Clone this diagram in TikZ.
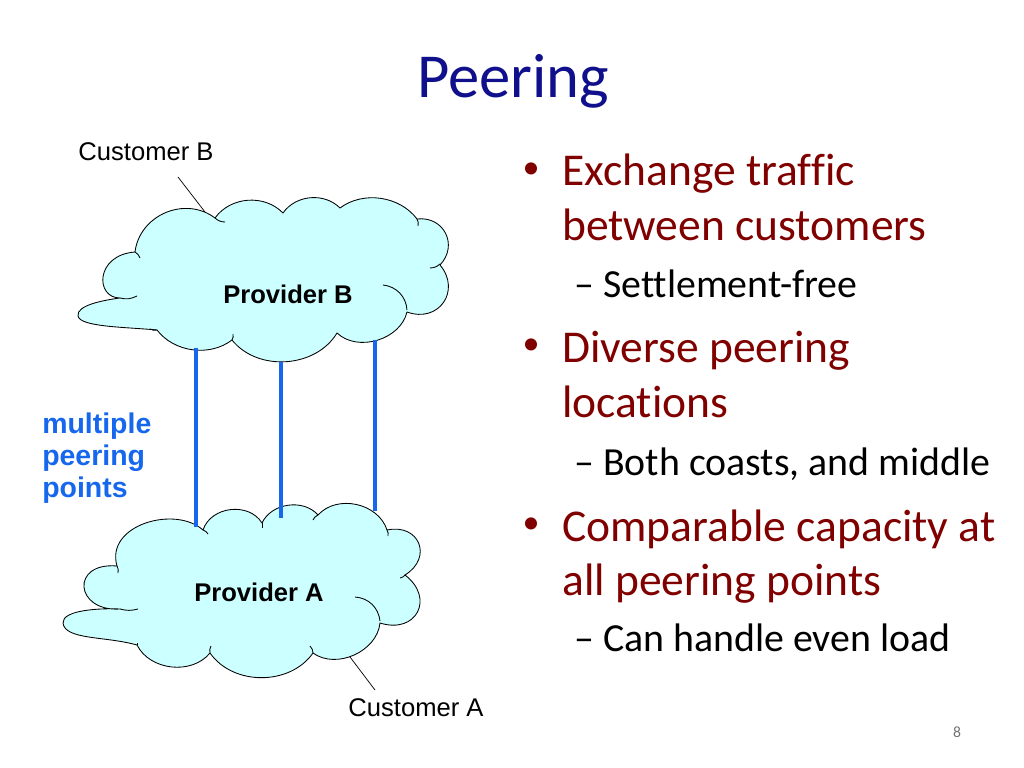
\documentclass[tikz,border=0pt]{standalone}
\usepackage{fontspec}
\setmainfont{Carlito}[Ligatures={TeX,NoCommon}]
\newfontfamily\arialf{Liberation Sans}
\definecolor{titleblue}{RGB}{16,16,140}
\definecolor{bulletred}{RGB}{128,0,0}
\definecolor{linkblue}{RGB}{22,102,238}
\definecolor{cloudfill}{RGB}{204,255,255}
\tikzset{
  cloudline/.style={draw=black, line width=0.6pt, fill=cloudfill, line join=round},
  curl/.style={draw=black, line width=0.6pt},
  peerlink/.style={draw=linkblue, line width=2.4pt},
  callout/.style={draw=black, line width=0.5pt},
  titletext/.style={anchor=base, inner sep=0pt, text=titleblue, font=\fontsize{44}{52}\selectfont},
  bul/.style={anchor=center, inner sep=0pt, text=bulletred, font=\fontsize{24}{28}\selectfont},
  maintext/.style={anchor=base west, inner sep=0pt, text=bulletred, font=\fontsize{32}{38}\selectfont},
  subtext/.style={anchor=base west, inner sep=0pt, text=black, font=\fontsize{28}{34}\selectfont},
  lbl/.style={anchor=base, inner sep=0pt, font=\arialf\fontsize{18}{21}\selectfont},
  boldlbl/.style={anchor=base, inner sep=0pt, font=\arialf\bfseries\fontsize{18}{21}\selectfont},
  bluelbl/.style={anchor=base west, inner sep=0pt, text=linkblue, font=\arialf\bfseries\fontsize{20}{24}\selectfont},
}
\begin{document}
\begin{tikzpicture}[x=0.703125pt,y=-0.703125pt]
\useasboundingbox[fill=white] (0,0) rectangle (1024,768);

% Title
\node[titletext] (title) at (513,98) {Peering};

% Bullets
\node[bul] (b1) at (531,171) {•};
\node[maintext] (t1a) at (562,186) {Exchange traffic};
\node[maintext] (t1b) at (562,241) {between customers};
\node[subtext] (s1) at (574,298) {– Settlement-free};
\node[bul] (b2) at (531,347) {•};
\node[maintext] (t2a) at (562,362) {Diverse peering};
\node[maintext] (t2b) at (562,417) {locations};
\node[subtext] (s2) at (574,475) {– Both coasts, and middle};
\node[bul] (b3) at (531,526) {•};
\node[maintext] (t3a) at (562,541) {Comparable capacity at};
\node[maintext] (t3b) at (562,595) {all peering points};
\node[subtext] (s3) at (574,651) {– Can handle even load};

% Cloud B
\path[cloudline] (120,298) .. controls (95,298) and (95,255) .. (135,252)
  to[bend left=60, looseness=1.1] (215,218)
  to[bend left=50] (283,213)
  to[bend left=50] (340,208)
  to[bend left=45, looseness=0.95] (417,219)
  to[bend left=70, looseness=1.35] (440,265)
  to[bend left=75, looseness=1.5] (407,312)
  to[bend left=60] (337,333)
  to[bend left=55] (232,340)
  to[bend left=45, looseness=0.95] (157,330)
  .. controls (125,327) and (80,327) .. (78,316)
  .. controls (76,305) and (105,300) .. (120,298) -- cycle;
\draw[curl] (383,285) to[bend left=40] (407,310);
\draw[curl] (120,298) to[bend right=20] (137,296);
\draw[curl] (440,264) to[bend left=20] (430,268);
\draw[curl] (232,340) to[bend right=20] (233,334);
\draw[curl] (215,218) to[bend right=20] (225,222);
\draw[curl] (135,252) to[bend left=20] (140,258);
\draw[curl] (417,219) to[bend left=20] (418,226);
\draw[curl] (157,330) to[bend left=20] (150,329);

% Cloud A
\path[cloudline] (120,609) .. controls (75,612) and (70,562) .. (117,566)
  .. controls (105,525) and (175,505) .. (203,530)
  to[bend left=65, looseness=1.08] (262,523)
  to[bend left=57] (318,515)
  to[bend left=60, looseness=1.03] (387,530)
  to[bend left=80, looseness=1.75] (405,575)
  to[bend left=80, looseness=1.8] (380,623)
  to[bend left=60] (313,653)
  to[bend left=55] (210,653)
  to[bend left=57] (137,645)
  .. controls (105,636) and (65,640) .. (63,623)
  .. controls (62,610) and (100,608) .. (120,609) -- cycle;
\draw[curl] (355,597) to[bend left=40] (380,621);
\draw[curl] (120,609) to[bend right=15] (138,609);
\draw[curl] (117,566) to[bend left=20] (118,573);
\draw[curl] (203,530) to[bend left=20] (208,534);
\draw[curl] (262,523) to[bend right=20] (262,528);
\draw[curl] (318,515) to[bend right=20] (313,520);
\draw[curl] (387,530) to[bend left=20] (388,536);
\draw[curl] (405,575) to[bend left=20] (400,578);
\draw[curl] (313,653) to[bend right=20] (310,646);
\draw[curl] (210,653) to[bend left=20] (211,646);
\draw[curl] (137,645) to[bend right=20] (137,643);

% Cloud labels
\node[boldlbl] (provB) at (288,304) {Provider B};
\node[boldlbl] (provA) at (259,601) {Provider A};
\node[lbl] (custB) at (146,161) {Customer B};
\node[lbl] (custA) at (416,716) {Customer A};

% Callouts
\coordinate (custBtip) at (205,212);
\coordinate (custBfoot) at (178,177);
\coordinate (custAtip) at (350,657);
\coordinate (custAfoot) at (375,690);
\draw[callout] (custBfoot) -- (custBtip);
\draw[callout] (custAtip) -- (custAfoot);

% Peering links
\coordinate (p1top) at (196,348);
\coordinate (p1bot) at (196,527);
\coordinate (p2top) at (281,362);
\coordinate (p2bot) at (281,518);
\coordinate (p3top) at (375,340);
\coordinate (p3bot) at (375,511);
\draw[peerlink] (p1top) -- (p1bot);
\draw[peerlink] (p2top) -- (p2bot);
\draw[peerlink] (p3top) -- (p3bot);

% Blue label
\node[bluelbl] (mp1) at (42,433) {multiple};
\node[bluelbl] (mp2) at (42,465) {peering};
\node[bluelbl] (mp3) at (42,497) {points};

% Page number
\node[anchor=base, inner sep=0pt, text=black!55, font=\fontsize{11}{13}\selectfont] (pagenum) at (957,737) {8};
\end{tikzpicture}
\end{document}
